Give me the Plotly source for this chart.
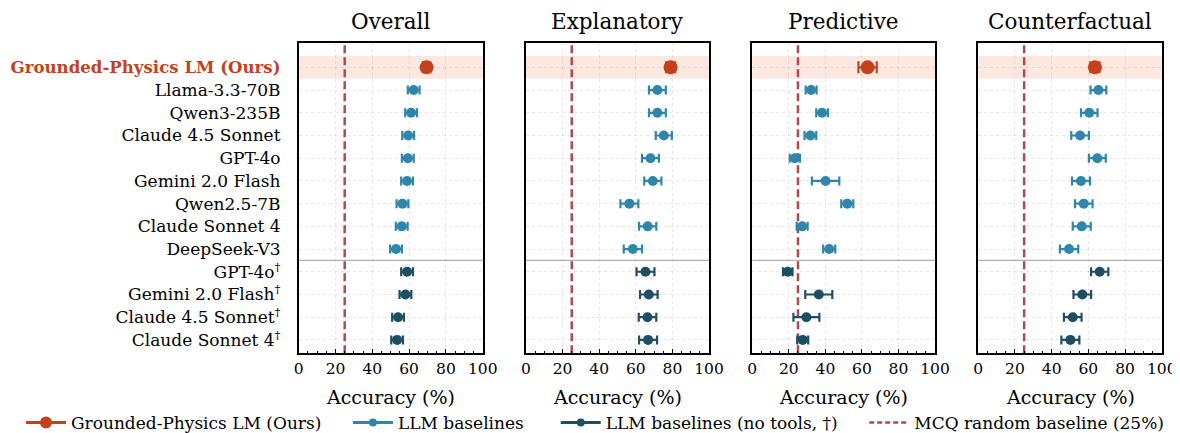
import plotly.graph_objects as go

models = ["Grounded-Physics LM (Ours)", "Llama-3.3-70B", "Qwen3-235B", "Claude 4.5 Sonnet", "GPT-4o",
          "Gemini 2.0 Flash", "Qwen2.5-7B", "Claude Sonnet 4", "DeepSeek-V3",
          "GPT-4o<sup>†</sup>", "Gemini 2.0 Flash<sup>†</sup>", "Claude 4.5 Sonnet<sup>†</sup>", "Claude Sonnet 4<sup>†</sup>"]
groups = ["ours"] + ["base"] * 8 + ["notools"] * 4

panels = ["Overall", "Explanatory", "Predictive", "Counterfactual"]
overall = [69.5, 62.5, 61.1, 59.5, 59.3, 58.9, 56.4, 56.0, 52.9, 58.9, 58.0, 54.0, 53.5]
overall_err = [2.0, 3.2, 3.2, 3.2, 3.2, 3.2, 3.2, 3.2, 3.2, 3.2, 3.2, 3.2, 3.2]
explanatory = [79.0, 71.8, 71.8, 75.3, 68.0, 69.3, 56.5, 66.5, 58.4, 65.3, 67.1, 66.4, 66.7]
explanatory_err = [2.5, 4.6, 4.6, 4.4, 4.6, 4.7, 4.9, 4.7, 5.0, 4.9, 4.8, 4.8, 4.9]
predictive = [63.1, 32.2, 38.2, 31.8, 23.3, 40.1, 52.0, 27.3, 42.1, 19.4, 36.4, 29.6, 27.6]
predictive_err = [5.0, 3.0, 3.2, 3.2, 2.8, 7.5, 3.3, 3.0, 3.3, 2.6, 7.4, 7.1, 3.0]
counterfactual = [63.6, 65.5, 60.5, 55.5, 64.9, 56.0, 57.5, 56.4, 49.5, 66.2, 56.7, 51.5, 50.2]
counterfactual_err = [2.5, 4.3, 4.5, 4.8, 4.6, 4.9, 4.8, 4.9, 5.0, 4.7, 4.8, 4.8, 4.9]
values = [overall, explanatory, predictive, counterfactual]
errors = [overall_err, explanatory_err, predictive_err, counterfactual_err]
x_ticks = [0, 20, 40, 60, 80, 100]
random_baseline = 25

C_OURS = "#C4411E"
C_BASE = "#2E86AB"
C_DARK = "#1D4E61"
C_DASH = "#B5474E"
FONT = "DejaVu Serif"
NB = "\u00a0"

group_style = {
    "ours": dict(color=C_OURS, size=14, name="Grounded-Physics LM (Ours)", pad=4),
    "base": dict(color=C_BASE, size=10, name="LLM baselines", pad=5),
    "notools": dict(color=C_DARK, size=10, name="LLM baselines (no tools, †)", pad=4),
}

# page body has an 8px margin: figure is drawn at (8, 8)
W, H = 1180, 425
OX, OY = 8, 8
def fx(px):
    return (px - OX) / W
def fy(py):
    return 1 - (py - OY) / H

rows = list(range(len(models)))
y_range = [12.59, -1.06]
x_pix = [(298.7, 482.7), (526, 709), (752.3, 935), (978.3, 1161.7)]
x_domains = [(fx(a), fx(b)) for a, b in x_pix]
y_domain = [fy(353.3), fy(43.3)]

fig = go.Figure()
shapes = []
annotations = []

for p in range(4):
    xa = "x" if p == 0 else f"x{p+1}"
    ya = "y" if p == 0 else f"y{p+1}"
    fig.add_trace(go.Scatter(x=[random_baseline, random_baseline], y=[y_range[0], y_range[1]],
                             mode="lines", line=dict(color=C_DASH, width=2.5, dash="8px,4px"),
                             xaxis=xa, yaxis=ya, showlegend=False, hoverinfo="skip"))
    for g in ["base", "notools", "ours"]:
        idx = [i for i in rows if groups[i] == g]
        st = group_style[g]
        fig.add_trace(go.Scatter(
            x=[values[p][i] for i in idx], y=idx, mode="markers",
            marker=dict(color=st["color"], size=st["size"]),
            error_x=dict(type="data", array=[errors[p][i] for i in idx], color=st["color"],
                         thickness=2.2, width=4.5 if g != "ours" else 6),
            xaxis=xa, yaxis=ya, showlegend=False))
    shapes.append(dict(type="rect", xref=f"{xa} domain", yref=ya, x0=0, x1=1, y0=-0.5, y1=0.5,
                       fillcolor="rgba(242,150,120,0.22)", line=dict(width=0), layer="below"))
    shapes.append(dict(type="line", xref=f"{xa} domain", yref=ya, x0=0, x1=1, y0=8.5, y1=8.5,
                       line=dict(color="#b0b0b0", width=1.2), layer="below"))
    cx = (x_domains[p][0] + x_domains[p][1]) / 2
    annotations.append(dict(text=panels[p], xref="paper", yref="paper", x=cx, y=fy(21),
                            xanchor="center", yanchor="middle", showarrow=False,
                            font=dict(family=FONT, size=21.5, color="black")))
    annotations.append(dict(text="Accuracy (%)", xref="paper", yref="paper", x=cx, y=fy(397),
                            xanchor="center", yanchor="middle", showarrow=False,
                            font=dict(family=FONT, size=19, color="black")))

for g in ["ours", "base", "notools"]:
    st = group_style[g]
    fig.add_trace(go.Scatter(x=[None], y=[None], mode="lines+markers", name=st["name"] + NB * st["pad"],
                             line=dict(color=st["color"], width=3),
                             marker=dict(color=st["color"], size=st["size"] - 2)))
fig.add_trace(go.Scatter(x=[None], y=[None], mode="lines", name="MCQ random baseline (25%)",
                         line=dict(color=C_DASH, width=2.5, dash="5px,3px")))

ticktext = [f"<span style='color:{C_OURS};font-size:16.6px'><b>{models[0]}</b></span>"] + models[1:]

layout = dict(
    width=W, height=H, margin=dict(l=0, r=0, t=0, b=0, autoexpand=False),
    paper_bgcolor="white", plot_bgcolor="white",
    font=dict(family=FONT, size=16, color="black"),
    shapes=shapes, annotations=annotations,
    legend=dict(orientation="h", x=fx(595), xanchor="center", y=fy(423), yanchor="middle",
                font=dict(family=FONT, size=17), itemwidth=40, tracegroupgap=0),
)
for p in range(4):
    xk = "xaxis" if p == 0 else f"xaxis{p+1}"
    yk = "yaxis" if p == 0 else f"yaxis{p+1}"
    ya = "y" if p == 0 else f"y{p+1}"
    xa = "x" if p == 0 else f"x{p+1}"
    layout[xk] = dict(domain=list(x_domains[p]), anchor=ya, range=[0, 100], automargin=False,
                      tickvals=x_ticks, ticks="inside", ticklen=5, tickwidth=1.2, tickcolor="black",
                      minor=dict(dtick=5, tick0=0, ticks="inside", ticklen=2.5, tickcolor="black",
                                 showgrid=False),
                      showline=True, mirror=True, linecolor="black", linewidth=1.6,
                      showgrid=True, gridcolor="rgba(0,0,0,0.09)", griddash="dot", gridwidth=1,
                      zeroline=False, tickfont=dict(size=15.5))
    layout[yk] = dict(domain=y_domain, anchor=xa, range=y_range, automargin=False,
                      tickvals=rows, ticktext=ticktext if p == 0 else [""] * len(rows),
                      showticklabels=(p == 0), ticks="", ticklabelstandoff=13,
                      showline=True, mirror=True, linecolor="black", linewidth=1.6,
                      showgrid=True, gridcolor="rgba(0,0,0,0.09)", griddash="dot", gridwidth=1,
                      zeroline=False, tickfont=dict(size=17))
fig.update_layout(**layout)

fig.write_html("out.html")
